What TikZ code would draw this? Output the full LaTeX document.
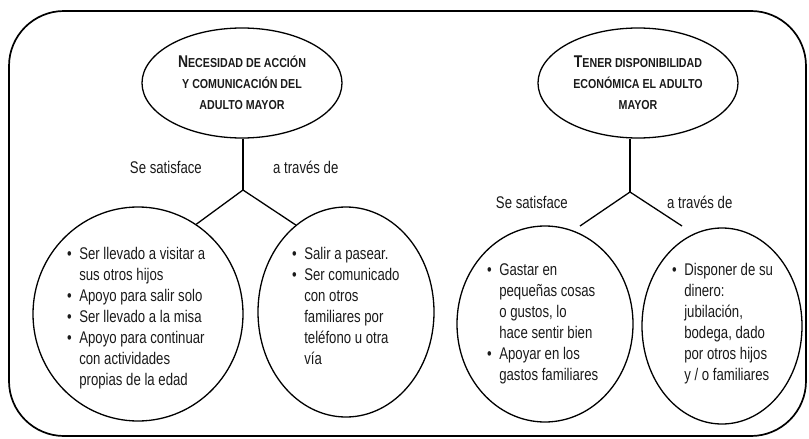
\documentclass[tikz,border=0pt]{standalone}
\usepackage{fontspec}
\setmainfont{Liberation Sans}[FakeStretch=0.78,BoldFeatures={FakeStretch=0.82}]
\usetikzlibrary{shapes.geometric}
\definecolor{ink}{HTML}{1A1A1A}
\newcommand\capL[1]{{\fontsize{17}{21}\selectfont #1}}
\newcommand\bulletrows[1]{\fontsize{16.9}{21}\selectfont\begin{tabular}[t]{@{}l@{\hspace{7.5pt}}l@{}}#1\end{tabular}}
\begin{document}
\begin{tikzpicture}[x=1pt,y=-1pt,
  frame/.style={line width=1.7pt,rounded corners=55pt},
  titleell/.style={ellipse,draw,line width=1.3pt,inner sep=0pt,minimum width=200pt,minimum height=110pt,align=center,text=ink,font=\bfseries\fontsize{13}{21}\selectfont},
  circ/.style={ellipse,draw,line width=1.3pt,inner sep=0pt},
  lbl/.style={inner sep=0pt,text=ink,font=\fontsize{16.9}{21}\selectfont},
  lst/.style={inner sep=0pt,text=ink,anchor=base west},
  conn/.style={line width=1.3pt}]
\useasboundingbox (0,0) rectangle (809,439);
\draw[frame] (9,11) rectangle (806,436);
% top ellipses
\node[titleell] (t1) at (242,83) {\capL{N}ECESIDAD DE ACCIÓN\\Y COMUNICACIÓN DEL\\ADULTO MAYOR};
\node[titleell] (t2) at (638,83) {\capL{T}ENER DISPONIBILIDAD\\ECONÓMICA EL ADULTO\\MAYOR};
% bottom circles
\node[circ,minimum width=210pt,minimum height=214pt] (c1) at (138,314) {};
\node[circ,minimum width=176pt,minimum height=210pt] (c2) at (346,312) {};
\node[circ,minimum width=176pt,minimum height=196pt] (c3) at (545,324) {};
\node[circ,minimum width=160pt,minimum height=196pt] (c4) at (722,326) {};
% junctions
\coordinate (j1) at (243,190);
\coordinate (j2) at (630,192);
\coordinate (e3) at (580,226);
\coordinate (e4) at (682,226);
\draw[conn] (t1.south -| j1) -- (j1);
\draw[conn] (j1) -- (c1.57);
\draw[conn] (j1) -- (c2.120);
\draw[conn] (t2.south -| j2) -- (j2);
\draw[conn] (j2) -- (e3);
\draw[conn] (j2) -- (e4);
% labels
\node[lbl,anchor=base east] (s1) at (202,173) {Se satisface};
\node[lbl,anchor=base west] (a1) at (273,173) {a través de};
\node[lbl,anchor=base east] (s2) at (568,208) {Se satisface};
\node[lbl,anchor=base west] (a2) at (667,208) {a través de};
% lists
\node[lst] (l1) at (67,259) {\bulletrows{%
\textbullet & Ser llevado a visitar a\\
 & sus otros hijos\\
\textbullet & Apoyo para salir solo\\
\textbullet & Ser llevado a la misa\\
\textbullet & Apoyo para continuar\\
 & con actividades\\
 & propias de la edad}};
\node[lst] (l2) at (292,259) {\bulletrows{%
\textbullet & Salir a pasear.\\
\textbullet & Ser comunicado\\
 & con otros\\
 & familiares por\\
 & teléfono u otra\\
 & vía}};
\node[lst] (l3) at (487,275) {\bulletrows{%
\textbullet & Gastar en\\
 & pequeñas cosas\\
 & o gustos, lo\\
 & hace sentir bien\\
\textbullet & Apoyar en los\\
 & gastos familiares}};
\node[lst] (l4) at (672,275) {\bulletrows{%
\textbullet & Disponer de su\\
 & dinero:\\
 & jubilación,\\
 & bodega, dado\\
 & por otros hijos\\
 & y / o familiares}};
\end{tikzpicture}
\end{document}
